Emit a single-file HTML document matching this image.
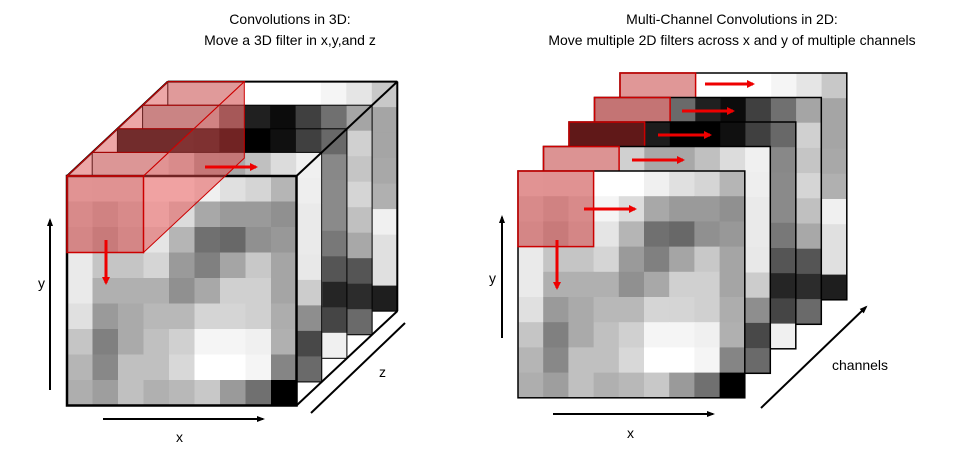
<!DOCTYPE html><html><head><meta charset="utf-8"><style>body{margin:0;background:#fff}svg{display:block}text{font-family:"Liberation Sans",sans-serif;fill:#000}</style></head><body>
<svg id="s" width="975" height="450" xmlns="http://www.w3.org/2000/svg">
<defs><marker id="ar" markerWidth="8" markerHeight="8" refX="6" refY="4" orient="auto" markerUnits="userSpaceOnUse"><path d="M0,0 L8,4 L0,8 z" fill="#e00"/></marker>
<marker id="ak" markerWidth="8" markerHeight="8" refX="6" refY="4" orient="auto" markerUnits="userSpaceOnUse"><path d="M0,1 L8,4 L0,7 z" fill="#000"/></marker></defs>
<g id="L"></g><g id="R"></g>
<text x="290" y="24" font-size="14" text-anchor="middle">Convolutions in 3D:</text>
<text x="290" y="45" font-size="14" text-anchor="middle">Move a 3D filter in x,y,and z</text>
<text x="732" y="24" font-size="14" text-anchor="middle">Multi-Channel Convolutions in 2D:</text>
<text x="732" y="45" font-size="14" text-anchor="middle">Move multiple 2D filters across x and y of multiple channels</text>
<line x1="50" y1="390" x2="50" y2="220" stroke="#000" stroke-width="2" marker-end="url(#ak)"/>
<text x="38" y="288" font-size="14">y</text>
<line x1="103" y1="419" x2="263" y2="419" stroke="#000" stroke-width="2" marker-end="url(#ak)"/>
<text x="176" y="442" font-size="14">x</text>
<line x1="311" y1="413" x2="405" y2="323" stroke="#000" stroke-width="2"/>
<text x="379" y="377" font-size="14">z</text>
<line x1="502" y1="338" x2="502" y2="217" stroke="#000" stroke-width="2" marker-end="url(#ak)"/>
<text x="489" y="283" font-size="14">y</text>
<line x1="553" y1="414" x2="713" y2="414" stroke="#000" stroke-width="2" marker-end="url(#ak)"/>
<text x="627" y="438" font-size="14">x</text>
<line x1="761" y1="408" x2="866" y2="307" stroke="#000" stroke-width="2" marker-end="url(#ak)"/>
<text x="832" y="370" font-size="14">channels</text>
</svg>
<script>
var F=[["EA","E8","E8","FF","FF","F0","E0","D5","B5"],["D8","C8","D8","F5","DC","A8","9A","9A","90"],["D0","B8","D0","E5","B5","70","68","90","98"],["EA","C5","C5","D5","9A","80","A5","C8","A5"],["EA","B0","B0","B0","90","A8","D0","D0","A5"],["E0","9A","AA","B8","B8","D5","D5","D0","AD"],["C5","80","AA","C0","D0","F5","F5","F0","B0"],["B5","88","C0","C0","D8","FF","FF","F5","85"],["AE","9E","C0","B0","B8","C8","9A","70","00"]];
var tops=[null,["E0","E0","E0","D0","A8","A8","C0","DC","F0"],["20","20","20","1C","00","00","10","40","68"],["C0","C0","C0","6A","20","0C","40","70","A5"],["E8","E8","E8","FF","FF","FF","F5","E5","C8"]];
var rights=[null,["F0","EE","EA","EA","E8","CC","8E","48","6A"],["68","88","8A","8A","78","55","25","45","F0"],["A5","D0","C5","D5","C0","A8","55","2C","6A"],["C8","A5","A5","A8","B0","F0","E0","E0","1E"]];
var pinks=[null,"rgba(215,70,70,0.5)","rgba(140,20,20,0.6)","rgba(200,40,40,0.5)","rgba(215,70,70,0.5)"];
var NS="http://www.w3.org/2000/svg";
function el(p,t,a){var e=document.createElementNS(NS,t);for(var k in a)e.setAttribute(k,a[k]);p.appendChild(e);return e;}
function grid(g,x0,y0,c,data,sw){for(var r=0;r<9;r++)for(var j=0;j<9;j++){var v=data(r,j);el(g,"rect",{x:x0+j*c,y:y0+r*c,width:c+0.5,height:c+0.5,fill:"#"+v+v.slice(0,2)+v.slice(0,2).replace(/./g,function(a){return a})});}
el(g,"rect",{x:x0,y:y0,width:9*c,height:9*c,fill:"none",stroke:"#000","stroke-width":sw});}
function col(v){return "#"+v+v+v;}
function grid2(g,x0,y0,c,data,sw){for(var r=0;r<9;r++)for(var j=0;j<9;j++){el(g,"rect",{x:x0+j*c,y:y0+r*c,width:c+0.5,height:c+0.5,fill:col(data(r,j))});}
el(g,"rect",{x:x0,y:y0,width:9*c,height:9*c,fill:"none",stroke:"#000","stroke-width":sw});}
function layerData(k){return function(r,j){if(r==0)return tops[k][j];if(j==8)return rights[k][r];return "C0";};}
function arrow(g,x1,y1,x2,y2){el(g,"line",{x1:x1,y1:y1,x2:x2,y2:y2,stroke:"#e00","stroke-width":3,"marker-end":"url(#ar)"});}
// LEFT
var L=document.getElementById("L");var c=25.5,dx=25.2,dy=-23.6,fx=67,fy=176;
for(var k=4;k>=1;k--){grid2(L,fx+k*dx,fy+k*dy,c,layerData(k),1);}
grid2(L,fx,fy,c,function(r,j){return F[r][j];},2.5);
var bx=fx+4*dx,by=fy+4*dy,W=9*c;
el(L,"line",{x1:fx,y1:fy,x2:bx,y2:by,stroke:"#000","stroke-width":2});
el(L,"line",{x1:bx,y1:by,x2:bx+W,y2:by,stroke:"#000","stroke-width":2});
el(L,"line",{x1:fx+W,y1:fy,x2:bx+W,y2:by,stroke:"#000","stroke-width":2});
el(L,"line",{x1:bx+W,y1:by,x2:bx+W,y2:by+W,stroke:"#000","stroke-width":2});
el(L,"line",{x1:fx+W,y1:fy+W,x2:bx+W,y2:by+W,stroke:"#000","stroke-width":2});
var s=3*c;
el(L,"polygon",{points:[fx,fy,fx+s,fy,bx+s,by,bx,by].join(","),fill:"rgba(215,60,60,0.45)",stroke:"#c00","stroke-width":1});
el(L,"polygon",{points:[fx+s,fy,bx+s,by,bx+s,by+s,fx+s,fy+s].join(","),fill:"rgba(225,70,70,0.5)",stroke:"#c00","stroke-width":1});
el(L,"rect",{x:fx,y:fy,width:s,height:s,fill:"rgba(215,60,60,0.5)",stroke:"#c00","stroke-width":1.5});
for(var k=1;k<4;k++){el(L,"line",{x1:fx+k*dx,y1:fy+k*dy,x2:fx+k*dx+s,y2:fy+k*dy,stroke:"#a00","stroke-width":1});}
arrow(L,205,167,256,167);arrow(L,106,240,106,283);
// RIGHT
var R=document.getElementById("R");c=25.2;dx=25.5;dy=-24.5;fx=518;fy=171;
for(var k=4;k>=1;k--){var x=fx+k*dx,y=fy+k*dy;grid2(R,x,y,c,layerData(k),1.5);
el(R,"rect",{x:x,y:y,width:3*c,height:c,fill:pinks[k],stroke:"#c00","stroke-width":1.5});}
grid2(R,fx,fy,c,function(r,j){return F[r][j];},1.5);
el(R,"rect",{x:fx,y:fy,width:3*c,height:3*c,fill:"rgba(215,60,60,0.5)",stroke:"#c00","stroke-width":1.5});
arrow(R,705,84,753,84);arrow(R,682,111,733,111);arrow(R,658,135,710,135);arrow(R,632,160,683,160);arrow(R,584,209,635,209);arrow(R,557,240,557,288);
</script>
</body></html>
